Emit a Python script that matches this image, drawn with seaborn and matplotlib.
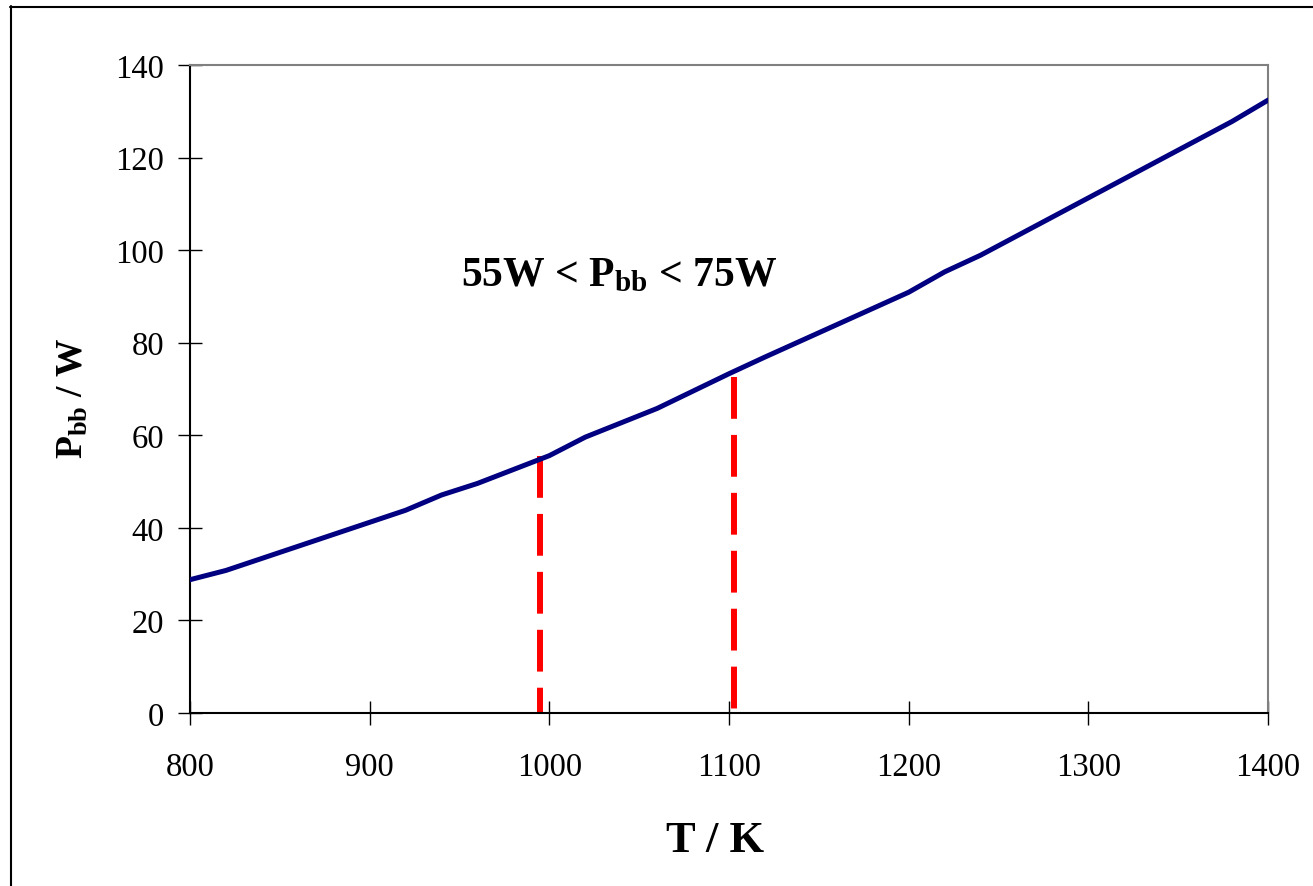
import matplotlib
matplotlib.use("Agg")
import matplotlib.pyplot as plt
from matplotlib.lines import Line2D
import seaborn as sns
import pandas as pd

# Black-body radiated power versus temperature
temperature_k = [800, 820, 920, 940, 960, 1000, 1020, 1060, 1100, 1120, 1200, 1220, 1240, 1380, 1400]
power_w = [28.8, 30.8, 43.8, 47.1, 49.6, 55.6, 59.6, 65.8, 73.3, 76.9, 90.9, 95.3, 98.9, 127.8, 132.4]

# Operating window markers (temperature, power at the curve)
marker_t = [995, 1103]
marker_p = [55.5, 72.5]

x_ticks = [800, 900, 1000, 1100, 1200, 1300, 1400]
y_ticks = [0, 20, 40, 60, 80, 100, 120, 140]

sns.set_theme(style="white")
plt.rcParams["font.family"] = ["Liberation Serif", "DejaVu Serif"]
plt.rcParams["text.color"] = "black"
plt.rcParams["axes.labelcolor"] = "black"
plt.rcParams["mathtext.fontset"] = "custom"
plt.rcParams["mathtext.rm"] = "Liberation Serif"
plt.rcParams["mathtext.bf"] = "Liberation Serif:bold"
plt.rcParams["mathtext.default"] = "bf"

df = pd.DataFrame({"T": temperature_k, "P": power_w})

fig = plt.figure(figsize=(13.13, 8.87), dpi=100)
ax = fig.add_axes([190 / 1313, 1 - 714 / 887, (1268 - 190) / 1313, (714 - 66) / 887])

sns.lineplot(data=df, x="T", y="P", ax=ax, color="#000080", linewidth=3.6, zorder=3)

for t, p in zip(marker_t, marker_p):
    ax.plot([t, t], [p, 0], color="#ff0000", linewidth=4.3,
            linestyle=(0, (7, 2.7)), solid_capstyle="butt",
            dash_capstyle="butt", zorder=2)

ax.set_xlim(800, 1400)
ax.set_ylim(0, 140)
ax.set_xticks(x_ticks)
ax.set_yticks(y_ticks)
ax.tick_params(axis="both", which="major", bottom=True, left=True,
               direction="inout", length=17, width=1.0,
               color="black", labelsize=23.5, labelcolor="black")
ax.tick_params(axis="x", pad=19)
ax.tick_params(axis="y", pad=10)

for side in ["left", "bottom"]:
    ax.spines[side].set_color("black")
    ax.spines[side].set_linewidth(1.5)
for side in ["top", "right"]:
    ax.spines[side].set_color("#808080")
    ax.spines[side].set_linewidth(1.5)

ax.set_xlabel("T / K", fontsize=32, fontweight="bold", color="black")
ax.xaxis.set_label_coords(0.487, -0.165)
ax.set_ylabel("P$_{bb}$ / W", fontsize=27, fontweight="bold", color="black")
ax.yaxis.set_label_coords(-0.092, 0.487)

ax.text(1039, 94.5, "55W < P$_{bb}$ < 75W", fontsize=30, fontweight="bold",
        ha="center", va="center", color="black")

# Outer frame (left and top edges)
fig.add_artist(Line2D([10.5 / 1313, 10.5 / 1313], [0, 1 - 7 / 887],
                      transform=fig.transFigure, color="black", linewidth=1.5))
fig.add_artist(Line2D([10 / 1313, 1], [1 - 7.5 / 887, 1 - 7.5 / 887],
                      transform=fig.transFigure, color="black", linewidth=1.5))

fig.savefig("out.png", dpi=100)
